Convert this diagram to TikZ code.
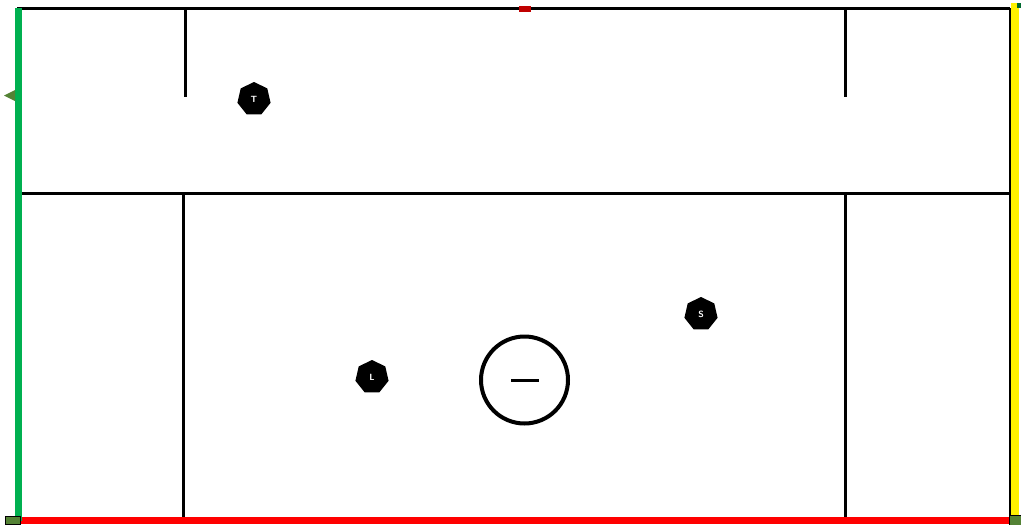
\documentclass[tikz,border=0pt]{standalone}
\usetikzlibrary{shapes.geometric}
\definecolor{fgreen}{HTML}{00B050}
\definecolor{olive}{HTML}{548235}
\definecolor{dred}{HTML}{C00000}
\tikzset{
  wall/.style={line width=3pt, black},
  player/.style={regular polygon, regular polygon sides=7, fill=black, inner sep=0pt,
    minimum size=34pt, text=white, font=\sffamily\bfseries\fontsize{9}{10}\selectfont},
}
\begin{document}
\begin{tikzpicture}[x=1pt,y=-1pt]
\useasboundingbox (0,0) rectangle (1021,525);
% walls
\draw[wall] (17,8) -- (1010,8);
\draw[wall] (1010,8) -- (1010,520);
\draw[wall] (20,193) -- (1010,193);
\draw[wall] (185,8) -- (185,97);
\draw[wall] (845,8) -- (845,97);
\draw[wall] (183,193) -- (183,520);
\draw[wall] (845,193) -- (845,520);
% coloured borders
\draw[line width=7pt, red] (18,520.5) -- (1012,520.5);
\draw[line width=7pt, fgreen] (18.5,8) -- (18.5,521);
\draw[line width=8pt, yellow] (1015,3) -- (1015,521);
\fill[fgreen!60!black] (1017,3) rectangle (1021,8);
\draw[fill=olive, line width=0.8pt] (5,516) rectangle (20,524);
\draw[fill=olive, line width=0.8pt] (1009,515) rectangle (1021,525);
\fill[olive] (4,95.5) -- (15,90) -- (15,101) -- cycle;
\fill[dred] (519,6) rectangle (531,12);
% centre
\node[circle, draw, line width=4pt, minimum size=87pt, inner sep=0pt] (c) at (524.5,380) {};
\draw[line width=3pt] (511,380) -- (539,380);
% players
\node[player] (t) at (254,99) {T};
\node[player] (s) at (701,314) {S};
\node[player] (l) at (372,377) {L};
\end{tikzpicture}
\end{document}
